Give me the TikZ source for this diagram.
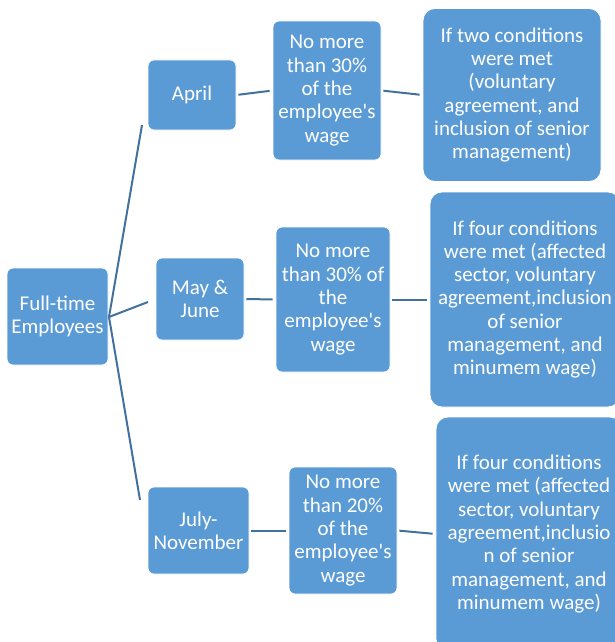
\documentclass[tikz,border=0pt]{standalone}
\usepackage{fontspec}
\setmainfont{Carlito}[Ligatures=TeXOff]
\definecolor{boxblue}{HTML}{5B9BD5}
\definecolor{lineblue}{HTML}{41719C}
\begin{document}
\begin{tikzpicture}[x=1pt,y=-1pt,
  box/.style={fill=boxblue,draw=white,line width=0.8pt,rounded corners=6pt,
    text=white,align=center,inner sep=0pt,font=\fontsize{21}{23.3}\selectfont},
  conn/.style={draw=lineblue,line width=2pt}]
\useasboundingbox (0,0) rectangle (615,642);
\begin{scope}
\clip (0,0) rectangle (615,642);
\node[box,minimum width=101pt,minimum height=97pt] (ft) at (57.5,316.5) {Full-time\\Employees};
\node[box,minimum width=88pt,minimum height=70pt] (apr) at (192,95) {April};
\node[box,minimum width=88pt,minimum height=82pt] (may) at (200,299) {May \&\\June};
\node[box,minimum width=101pt,minimum height=87pt] (jul) at (198.5,530.5) {July-\\November};
\node[box,minimum width=108pt,minimum height=139pt] (n1) at (327,90.5) {No more\\than 30\%\\of the\\employee's\\wage};
\node[box,minimum width=114pt,minimum height=145pt] (n2) at (333,299.5) {No more\\than 30\% of\\the\\employee's\\wage};
\node[box,minimum width=108pt,minimum height=127pt] (n3) at (343,530.5) {No more\\than 20\%\\of the\\employee's\\wage};
\node[box,minimum width=178pt,minimum height=173pt,rounded corners=12pt] (c1) at (512,95) {If two conditions\\were met\\(voluntary\\agreement, and\\inclusion of senior\\management)};
\node[box,minimum width=190pt,minimum height=215pt,rounded corners=12pt] (c2) at (525,299.5) {If four conditions\\were met (affected\\sector, voluntary\\agreement,inclusion\\of senior\\management, and\\minumem wage)};
\node[box,minimum width=186pt,minimum height=234pt,rounded corners=12pt] (c3) at (529,534) {If four conditions\\were met (affected\\sector, voluntary\\agreement,inclusio\\n of senior\\management, and\\minumem wage)};
\end{scope}
\coordinate (hub) at (109,317);
\coordinate (aend) at (142,125);
\coordinate (mend) at (148,302);
\coordinate (jend) at (140,500);
\draw[conn] (hub) -- (aend);
\draw[conn] (hub) -- (mend);
\draw[conn] (hub) -- (jend);
\draw[conn,shorten <=2pt,shorten >=3pt] (apr.east) -- (n1.west);
\draw[conn,shorten <=2pt,shorten >=3pt] (n1.east) -- (c1.west);
\draw[conn,shorten <=2pt,shorten >=3pt] (may.east) -- (n2.west);
\draw[conn,shorten <=2pt,shorten >=3pt] (n2.east) -- (c2.west);
\draw[conn,shorten <=2pt,shorten >=3pt] (jul.east) -- (n3.west);
\draw[conn,shorten <=2pt,shorten >=3pt] (n3.east) -- (c3.west);
\end{tikzpicture}
\end{document}
